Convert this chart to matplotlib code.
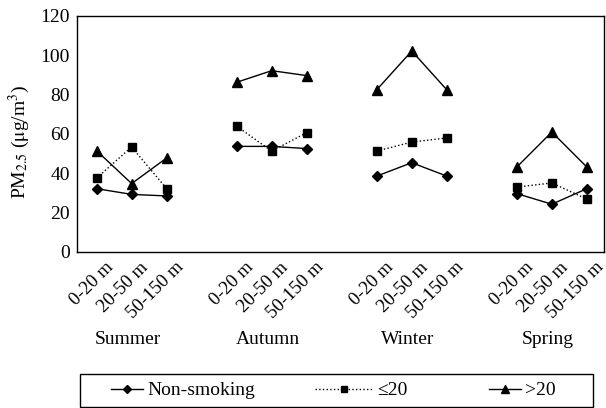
import matplotlib
matplotlib.use("Agg")
import matplotlib.pyplot as plt
import matplotlib.transforms as mtransforms
import numpy as np

plt.rcParams['font.family'] = ['Liberation Serif', 'DejaVu Serif']
plt.rcParams['mathtext.fontset'] = 'stix'

# --- data (PM2.5, ug/m3) ---
seasons = ['Summer', 'Autumn', 'Winter', 'Spring']
distances = ['0-20 m', '20-50 m', '50-150 m']
non_smoking = [[32.2, 29.3, 28.5], [53.7, 53.7, 52.6], [38.6, 45.4, 38.6], [29.7, 24.3, 32.2]]
le_20 = [[37.6, 53.4, 32.2], [64.0, 51.3, 60.7], [51.3, 55.9, 58.0], [33.0, 35.1, 26.9]]
gt_20 = [[51.5, 34.8, 47.8], [86.3, 92.2, 89.7], [82.5, 102.2, 82.5], [43.2, 61.0, 43.2]]

fig = plt.figure(figsize=(6.06, 4.08), dpi=100)
ax = fig.add_axes([77 / 606, 1 - 252 / 408, 527 / 606, 236 / 408])

# 3 points per season, one empty slot between seasons
slot = 4
xs = [np.arange(3) + i * slot for i in range(len(seasons))]

series = [
    (non_smoking, 'Non-smoking', '-', 'D', 5.5),
    (le_20, '≤20', ':', 's', 6),
    (gt_20, '>20', '-', '^', 6.5),
]
handles = []
for vals, lab, ls, mk, ms in series:
    for i in range(len(seasons)):
        h, = ax.plot(xs[i], vals[i], color='black', linestyle=ls, linewidth=1.0,
                     marker=mk, markersize=ms)
        if i == 0:
            h.set_label(lab)
            handles.append(h)

ax.set_ylim(0, 120)
ax.set_yticks(np.arange(0, 121, 20))
ax.set_xlim(-0.56, 14.49)

allx = np.concatenate(xs)
ax.set_xticks(allx)
ax.set_xticklabels(distances * len(seasons))
ax.tick_params(axis='both', length=0, labelsize=14)
ax.tick_params(axis='y', pad=5)
ax.tick_params(axis='x', pad=0)
offset = mtransforms.ScaledTranslation(0.14, -0.13, fig.dpi_scale_trans)
for t in ax.get_xticklabels():
    t.set_rotation(45)
    t.set_rotation_mode('anchor')
    t.set_ha('right')
    t.set_va('center')
    t.set_fontsize(13.5)
    t.set_transform(t.get_transform() + offset)

for sp in ax.spines.values():
    sp.set_color('black')
    sp.set_linewidth(1.0)

# season names below the distance labels
trans = mtransforms.blended_transform_factory(ax.transData, ax.transAxes)
soff = mtransforms.ScaledTranslation(-0.04, 0, fig.dpi_scale_trans)
for i, s in enumerate(seasons):
    ax.text(xs[i][1], -0.369, s, transform=trans + soff, ha='center', va='center', fontsize=14)

ax.set_ylabel(r'PM$_{2.5}$ ($\mathrm{\mu}$g/m$^{3}$)', fontsize=14)
ax.yaxis.set_label_coords(-0.085, 0.468)

# legend: one box, three entries placed along it
box = plt.Rectangle((80 / 606, 1 - 407 / 408), 513 / 606, 33 / 408, transform=fig.transFigure,
                    fill=False, edgecolor='black', linewidth=1.0)
fig.add_artist(box)
leg_x = [111, 315, 489]
leg_hl = [1.65, 3.0, 1.65]
for h, x0, hl in zip(handles, leg_x, leg_hl):
    lg = fig.legend(handles=[h], loc='center left', bbox_to_anchor=(x0 / 606, 1 - 390.5 / 408),
                    fontsize=14, frameon=False, handlelength=hl, handletextpad=0.2,
                    borderpad=0, borderaxespad=0, markerscale=0.8)

fig.savefig('out.png', dpi=100)
